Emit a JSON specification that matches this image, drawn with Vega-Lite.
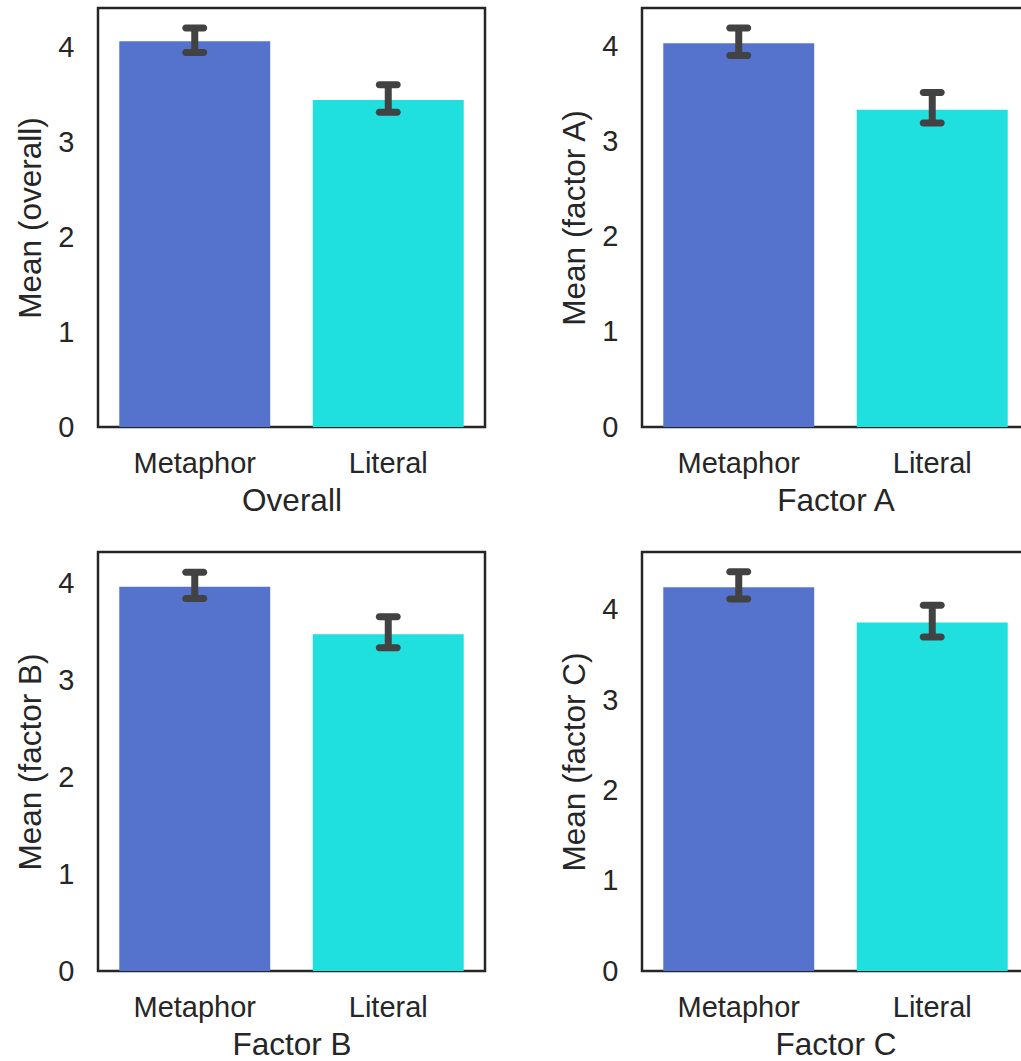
{
  "$schema": "https://vega.github.io/schema/vega-lite/v6.json",
  "data": {"values": [
    {"panel": "Overall", "condition": "Metaphor", "mean": 4.07, "lo": 3.95, "hi": 4.21},
    {"panel": "Overall", "condition": "Literal", "mean": 3.45, "lo": 3.32, "hi": 3.61},
    {"panel": "Factor A", "condition": "Metaphor", "mean": 4.04, "lo": 3.91, "hi": 4.20},
    {"panel": "Factor A", "condition": "Literal", "mean": 3.34, "lo": 3.20, "hi": 3.52},
    {"panel": "Factor B", "condition": "Metaphor", "mean": 3.97, "lo": 3.85, "hi": 4.12},
    {"panel": "Factor B", "condition": "Literal", "mean": 3.48, "lo": 3.34, "hi": 3.66},
    {"panel": "Factor C", "condition": "Metaphor", "mean": 4.25, "lo": 4.12, "hi": 4.42},
    {"panel": "Factor C", "condition": "Literal", "mean": 3.86, "lo": 3.70, "hi": 4.05}
  ]},
  "autosize": {"type": "pad"},
  "padding": {"left": 14, "top": 6, "right": 0, "bottom": 0},
  "columns": 2,
  "spacing": {"row": 32, "column": 71},
  "concat": [
    {
      "width": 387, "height": 419,
      "transform": [{"filter": "datum.panel == 'Overall'"}],
      "encoding": {"x": {"field": "condition", "type": "nominal", "sort": ["Metaphor", "Literal"], "title": "Overall", "scale": {"paddingInner": 0.22, "paddingOuter": 0.11}}},
      "layer": [
        {"mark": {"type": "bar"}, "encoding": {
          "y": {"field": "mean", "type": "quantitative", "title": "Mean (overall)", "scale": {"domain": [0, 4.42], "nice": false}, "axis": {"values": [0, 1, 2, 3, 4], "format": "d"}},
          "color": {"field": "condition", "type": "nominal", "scale": {"domain": ["Metaphor", "Literal"], "range": ["#5573CD", "#20DFDF"]}, "legend": null}}},
        {"mark": {"type": "rule", "color": "#424242", "strokeWidth": 7}, "encoding": {
          "y": {"field": "lo", "type": "quantitative", "title": "Mean (overall)"}, "y2": {"field": "hi"}}},
        {"mark": {"type": "tick", "color": "#424242", "thickness": 7, "size": 25, "cornerRadius": 3.5, "opacity": 1}, "encoding": {
          "y": {"field": "lo", "type": "quantitative", "title": "Mean (overall)"}}},
        {"mark": {"type": "tick", "color": "#424242", "thickness": 7, "size": 25, "cornerRadius": 3.5, "opacity": 1}, "encoding": {
          "y": {"field": "hi", "type": "quantitative", "title": "Mean (overall)"}}}
      ]
    },
    {
      "width": 387, "height": 419,
      "transform": [{"filter": "datum.panel == 'Factor A'"}],
      "encoding": {"x": {"field": "condition", "type": "nominal", "sort": ["Metaphor", "Literal"], "title": "Factor A", "scale": {"paddingInner": 0.22, "paddingOuter": 0.11}}},
      "layer": [
        {"mark": {"type": "bar"}, "encoding": {
          "y": {"field": "mean", "type": "quantitative", "title": "Mean (factor A)", "scale": {"domain": [0, 4.41], "nice": false}, "axis": {"values": [0, 1, 2, 3, 4], "format": "d"}},
          "color": {"field": "condition", "type": "nominal", "scale": {"domain": ["Metaphor", "Literal"], "range": ["#5573CD", "#20DFDF"]}, "legend": null}}},
        {"mark": {"type": "rule", "color": "#424242", "strokeWidth": 7}, "encoding": {
          "y": {"field": "lo", "type": "quantitative", "title": "Mean (factor A)"}, "y2": {"field": "hi"}}},
        {"mark": {"type": "tick", "color": "#424242", "thickness": 7, "size": 25, "cornerRadius": 3.5, "opacity": 1}, "encoding": {
          "y": {"field": "lo", "type": "quantitative", "title": "Mean (factor A)"}}},
        {"mark": {"type": "tick", "color": "#424242", "thickness": 7, "size": 25, "cornerRadius": 3.5, "opacity": 1}, "encoding": {
          "y": {"field": "hi", "type": "quantitative", "title": "Mean (factor A)"}}}
      ]
    },
    {
      "width": 387, "height": 419,
      "transform": [{"filter": "datum.panel == 'Factor B'"}],
      "encoding": {"x": {"field": "condition", "type": "nominal", "sort": ["Metaphor", "Literal"], "title": "Factor B", "scale": {"paddingInner": 0.22, "paddingOuter": 0.11}}},
      "layer": [
        {"mark": {"type": "bar"}, "encoding": {
          "y": {"field": "mean", "type": "quantitative", "title": "Mean (factor B)", "scale": {"domain": [0, 4.33], "nice": false}, "axis": {"values": [0, 1, 2, 3, 4], "format": "d"}},
          "color": {"field": "condition", "type": "nominal", "scale": {"domain": ["Metaphor", "Literal"], "range": ["#5573CD", "#20DFDF"]}, "legend": null}}},
        {"mark": {"type": "rule", "color": "#424242", "strokeWidth": 7}, "encoding": {
          "y": {"field": "lo", "type": "quantitative", "title": "Mean (factor B)"}, "y2": {"field": "hi"}}},
        {"mark": {"type": "tick", "color": "#424242", "thickness": 7, "size": 25, "cornerRadius": 3.5, "opacity": 1}, "encoding": {
          "y": {"field": "lo", "type": "quantitative", "title": "Mean (factor B)"}}},
        {"mark": {"type": "tick", "color": "#424242", "thickness": 7, "size": 25, "cornerRadius": 3.5, "opacity": 1}, "encoding": {
          "y": {"field": "hi", "type": "quantitative", "title": "Mean (factor B)"}}}
      ]
    },
    {
      "width": 387, "height": 419,
      "transform": [{"filter": "datum.panel == 'Factor C'"}],
      "encoding": {"x": {"field": "condition", "type": "nominal", "sort": ["Metaphor", "Literal"], "title": "Factor C", "scale": {"paddingInner": 0.22, "paddingOuter": 0.11}}},
      "layer": [
        {"mark": {"type": "bar"}, "encoding": {
          "y": {"field": "mean", "type": "quantitative", "title": "Mean (factor C)", "scale": {"domain": [0, 4.64], "nice": false}, "axis": {"values": [0, 1, 2, 3, 4], "format": "d"}},
          "color": {"field": "condition", "type": "nominal", "scale": {"domain": ["Metaphor", "Literal"], "range": ["#5573CD", "#20DFDF"]}, "legend": null}}},
        {"mark": {"type": "rule", "color": "#424242", "strokeWidth": 7}, "encoding": {
          "y": {"field": "lo", "type": "quantitative", "title": "Mean (factor C)"}, "y2": {"field": "hi"}}},
        {"mark": {"type": "tick", "color": "#424242", "thickness": 7, "size": 25, "cornerRadius": 3.5, "opacity": 1}, "encoding": {
          "y": {"field": "lo", "type": "quantitative", "title": "Mean (factor C)"}}},
        {"mark": {"type": "tick", "color": "#424242", "thickness": 7, "size": 25, "cornerRadius": 3.5, "opacity": 1}, "encoding": {
          "y": {"field": "hi", "type": "quantitative", "title": "Mean (factor C)"}}}
      ]
    }
  ],
  "config": {
    "view": {"stroke": "#262626", "strokeWidth": 2.5},
    "axis": {
      "grid": false, "domain": false, "ticks": false, "tickSize": 0,
      "labelFont": "Liberation Sans", "labelFontSize": 29, "labelColor": "#262626", "labelPadding": 24,
      "titleFont": "Liberation Sans", "titleFontSize": 31.5, "titleColor": "#262626", "titleFontWeight": "normal", "titlePadding": 10
    },
    "axisX": {"labelAngle": 0, "labelPadding": 22, "titlePadding": 7}
  }
}
